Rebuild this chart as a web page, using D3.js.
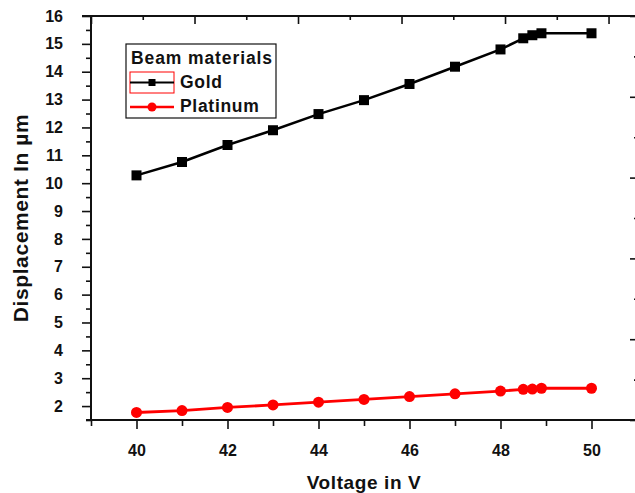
<!DOCTYPE html>
<html><head><meta charset="utf-8">
<script src="https://cdn.jsdelivr.net/npm/d3@7"></script>
<style>
html,body{margin:0;padding:0;background:#fff;overflow:hidden}
text{font-family:"Liberation Sans",Arial,sans-serif;font-weight:bold;fill:#111}
</style></head><body>
<svg id="c" width="635" height="493"></svg>
<script>
const voltage = [40, 41, 42, 43, 44, 45, 46, 47, 48, 48.5, 48.7, 48.9, 50];
const gold = [10.28, 10.76, 11.37, 11.9, 12.48, 12.98, 13.56, 14.18, 14.8, 15.2, 15.31, 15.38, 15.38];
const platinum = [1.77, 1.84, 1.95, 2.04, 2.14, 2.24, 2.34, 2.44, 2.54, 2.6, 2.61, 2.64, 2.64];
const xTickLabels = [40, 42, 44, 46, 48, 50];
const yTickLabels = [2, 3, 4, 5, 6, 7, 8, 9, 10, 11, 12, 13, 14, 15, 16];
const seriesNames = ["Gold", "Platinum"];
const legendTitle = "Beam materials";

const svg = d3.select("#c");
const L = 91, R = 637, T = 16, B = 420;
const x = d3.scaleLinear().domain([39, 51]).range([L, R]);
const y = d3.scaleLinear().domain([1.5, 16]).range([B, T]);
const xTop = d3.scaleLinear().domain([0, 5.275]).range([L, R]);
const yRight = d3.scaleLinear().domain([0, 5]).range([B, T]);

function styleAxis(g){
  g.select(".domain").remove();
  g.selectAll("line").attr("stroke","#111").attr("stroke-width",1.6);
  g.selectAll("text").attr("fill","#111").style("font-size","16px");
}

// Left axis
const yMinor = d3.range(1.5, 16, 1);
svg.append("g").attr("transform",`translate(${L},0)`)
  .call(d3.axisLeft(y).tickValues(yMinor).tickSize(5).tickFormat(""))
  .call(styleAxis);
svg.append("g").attr("transform",`translate(${L},0)`)
  .call(d3.axisLeft(y).tickValues(yTickLabels).tickSize(9).tickPadding(19).tickFormat(d3.format("d")))
  .call(styleAxis);

// Bottom axis
const xMinor = d3.range(39, 51, 2);
svg.append("g").attr("transform",`translate(0,${B})`)
  .call(d3.axisBottom(x).tickValues(xMinor).tickSize(6).tickFormat(""))
  .call(styleAxis);
svg.append("g").attr("transform",`translate(0,${B})`)
  .call(d3.axisBottom(x).tickValues(xTickLabels).tickSize(9).tickPadding(16).tickFormat(d3.format("d")))
  .call(styleAxis);

// Top axis (inward ticks)
svg.append("g").attr("transform",`translate(0,${T})`)
  .call(d3.axisBottom(xTop).tickValues(d3.range(0.5, 5.3, 1)).tickSize(4).tickFormat(""))
  .call(styleAxis);
svg.append("g").attr("transform",`translate(0,${T})`)
  .call(d3.axisBottom(xTop).tickValues(d3.range(0, 5.3, 1)).tickSize(8).tickFormat(""))
  .call(styleAxis);

// Right axis (inward ticks)
svg.append("g").attr("transform",`translate(${R},0)`)
  .call(d3.axisLeft(yRight).tickValues(d3.range(0.5, 5, 1)).tickSize(3).tickFormat(""))
  .call(styleAxis);
svg.append("g").attr("transform",`translate(${R},0)`)
  .call(d3.axisLeft(yRight).tickValues(d3.range(0, 5.1, 1)).tickSize(7).tickFormat(""))
  .call(styleAxis);

// Frame lines
svg.append("line").attr("x1",L).attr("x2",L).attr("y1",T-1).attr("y2",B+1).attr("stroke","#111").attr("stroke-width",2);
svg.append("line").attr("x1",86).attr("x2",R+2).attr("y1",B).attr("y2",B).attr("stroke","#111").attr("stroke-width",2);
svg.append("line").attr("x1",82).attr("x2",R+2).attr("y1",T).attr("y2",T).attr("stroke","#111").attr("stroke-width",2);
svg.append("line").attr("x1",R).attr("x2",R).attr("y1",T).attr("y2",B).attr("stroke","#111").attr("stroke-width",2);

// Series
const line = d3.line().x(d=>x(d[0])).y(d=>y(d[1]));
const goldPts = voltage.map((v,i)=>[v,gold[i]]);
const ptPts = voltage.map((v,i)=>[v,platinum[i]]);

svg.append("path").datum(goldPts).attr("d",line).attr("fill","none").attr("stroke","#000").attr("stroke-width",2.5);
svg.append("g").selectAll("rect").data(goldPts).join("rect")
  .attr("x",d=>x(d[0])-5).attr("y",d=>y(d[1])-5).attr("width",10).attr("height",10).attr("fill","#000");

svg.append("path").datum(ptPts).attr("d",line).attr("fill","none").attr("stroke","#ff0000").attr("stroke-width",2.8);
svg.append("g").selectAll("circle").data(ptPts).join("circle")
  .attr("cx",d=>x(d[0])).attr("cy",d=>y(d[1])).attr("r",5.5).attr("fill","#ff0000");

// Axis titles
svg.append("text").attr("x",(L+R)/2).attr("y",489).attr("text-anchor","middle")
  .style("font-size","19px").style("letter-spacing","0.6px").text("Voltage in V");
svg.append("text").attr("transform",`translate(28,${(T+B)/2}) rotate(-90)`).attr("text-anchor","middle")
  .style("font-size","21px").style("letter-spacing","0.6px").text("Displacement In µm");

// Legend
const lg = svg.append("g");
lg.append("rect").attr("x",126).attr("y",44).attr("width",150).attr("height",74).attr("fill","#fff").attr("stroke","#111").attr("stroke-width",1.2);
lg.append("text").attr("x",131).attr("y",64).style("font-size","17.5px").style("letter-spacing","0.9px").text(legendTitle);
lg.append("rect").attr("x",130).attr("y",72).attr("width",44).attr("height",21).attr("fill","none").attr("stroke","#ff0000").attr("stroke-width",1);
lg.append("line").attr("x1",130).attr("x2",174).attr("y1",82.5).attr("y2",82.5).attr("stroke","#000").attr("stroke-width",2);
lg.append("rect").attr("x",148.5).attr("y",79).attr("width",7).attr("height",7).attr("fill","#000");
lg.append("text").attr("x",180).attr("y",88).style("font-size","17.5px").style("letter-spacing","0.7px").text(seriesNames[0]);
lg.append("line").attr("x1",130).attr("x2",174).attr("y1",107).attr("y2",107).attr("stroke","#ff0000").attr("stroke-width",2.5);
lg.append("circle").attr("cx",152).attr("cy",107).attr("r",4.5).attr("fill","#ff0000");
lg.append("text").attr("x",180).attr("y",112).style("font-size","17.5px").style("letter-spacing","0.7px").text(seriesNames[1]);
</script></body></html>
